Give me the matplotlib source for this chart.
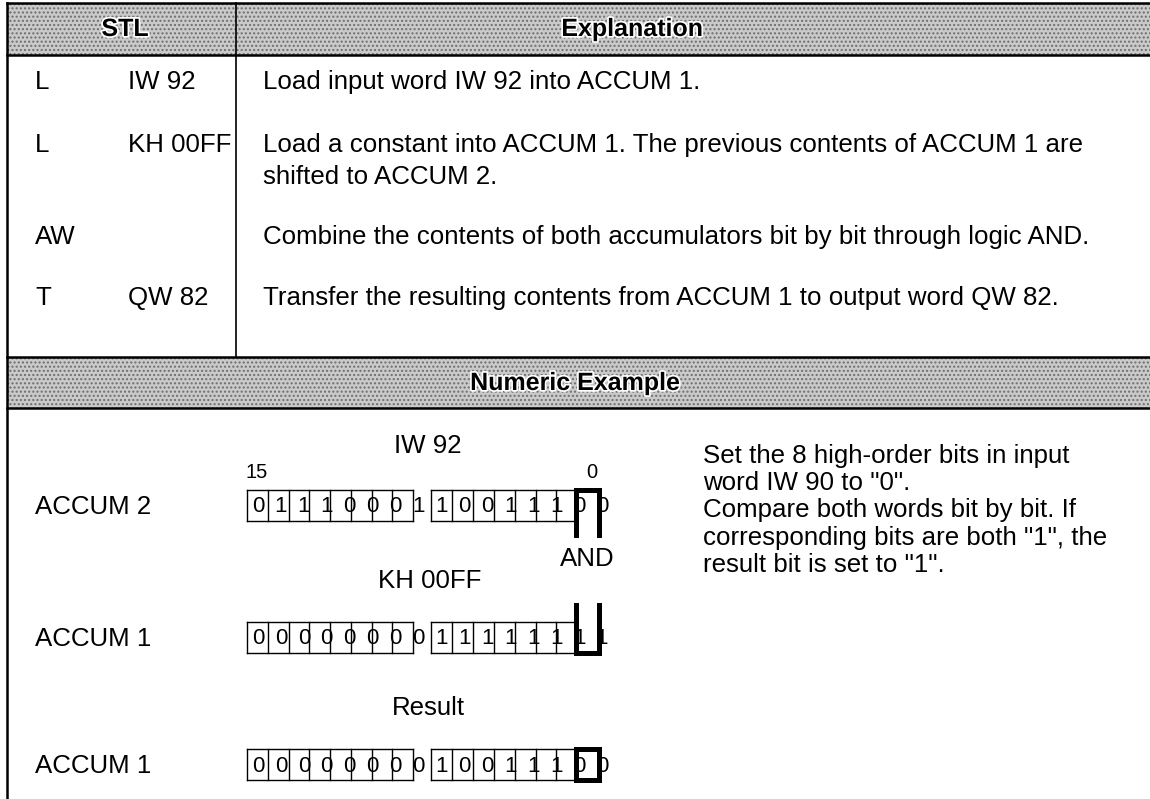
import matplotlib.pyplot as plt
import matplotlib.patheffects as pe
from matplotlib.patches import Rectangle

# STL table
ops = ["L", "L", "AW", "T"]
operands = ["IW 92", "KH 00FF", "", "QW 82"]
explanations = [
    ["Load input word IW 92 into ACCUM 1."],
    ["Load a constant into ACCUM 1. The previous contents of ACCUM 1 are",
     "shifted to ACCUM 2."],
    ["Combine the contents of both accumulators bit by bit through logic AND."],
    ["Transfer the resulting contents from ACCUM 1 to output word QW 82."],
]
headers = ["STL", "Explanation", "Numeric Example"]

# numeric example
accum2_bits = [0, 1, 1, 1, 0, 0, 0, 1, 1, 0, 0, 1, 1, 1, 0, 0]
accum1_bits = [0, 0, 0, 0, 0, 0, 0, 0, 1, 1, 1, 1, 1, 1, 1, 1]
result_bits = [0, 0, 0, 0, 0, 0, 0, 0, 1, 0, 0, 1, 1, 1, 0, 0]
word_titles = ["IW 92", "KH 00FF", "Result"]
accum_labels = ["ACCUM 2", "ACCUM 1", "ACCUM 1"]
note_lines = [
    'Set the 8 high-order bits in input',
    'word IW 90 to "0".',
    'Compare both words bit by bit. If',
    'corresponding bits are both "1", the',
    'result bit is set to "1".',
]

W, H = 1150, 799
fig = plt.figure(figsize=(W / 100, H / 100), dpi=100)
ax = fig.add_axes([0, 0, 1, 1])
ax.set_xlim(0, W)
ax.set_ylim(H, 0)
ax.axis("off")

body = dict(family=["Liberation Sans", "DejaVu Sans"], fontsize=18.6, color="black")
head = dict(family=["Liberation Sans", "DejaVu Sans"],
            fontsize=18, fontweight="bold", color="black",
            path_effects=[pe.withStroke(linewidth=2.5, foreground="white")])

L, R = 7, 1152
grey = "#cacaca"

# grey bands
for y0, y1 in [(3, 55), (357, 408)]:
    ax.add_patch(Rectangle((L, y0), R - L, y1 - y0, facecolor=grey,
                           edgecolor="#6e6e6e", hatch="....", linewidth=0))
    ax.plot([L, R], [y0, y0], color="black", lw=1.8)
    ax.plot([L, R], [y1, y1], color="black", lw=1.8)

ax.plot([L, L], [3, H], color="black", lw=1.8)
ax.plot([236, 236], [3, 357], color="black", lw=1.2)

ax.text(125, 29, headers[0], ha="center", va="center", **head)
ax.text(632, 29, headers[1], ha="center", va="center", **head)
ax.text(575, 383, headers[2], ha="center", va="center", **head)

row_y = [82, 145, 237, 298]
for i in range(len(ops)):
    ax.text(35, row_y[i], ops[i], ha="left", va="center", **body)
    ax.text(128, row_y[i], operands[i], ha="left", va="center", **body)
    for j, line in enumerate(explanations[i]):
        ax.text(263, row_y[i] + 32 * j, line, ha="left", va="center", **body)

# bit rows
tops = [490, 622, 749]
bh = 31
byte_x = [247, 431]
cw = [20.75, 20.9]
rows = [accum2_bits, accum1_bits, result_bits]
thin = 1.0
thick = 3.6

for r in range(3):
    top = tops[r]
    bot = top + bh
    ax.text(35, top + 17, accum_labels[r], ha="left", va="center", **body)
    for b in range(2):
        x0 = byte_x[b]
        x1 = x0 + 8 * cw[b]
        xe = x1 if b == 0 else x0 + 7 * cw[b]
        ax.plot([x0, xe], [top, top], color="black", lw=thin)
        ax.plot([x0, xe], [bot, bot], color="black", lw=thin)
        for k in range(8 if b == 0 else 7):
            xk = x0 + k * cw[b]
            ax.plot([xk, xk], [top, bot], color="black", lw=thin)
        if b == 0:
            ax.plot([x1, x1], [top, bot], color="black", lw=thin)
    for i, v in enumerate(rows[r]):
        ax.text(258 + 22.93 * i, top + 17, str(v), ha="center", va="center",
                family=["Liberation Sans", "DejaVu Sans"], fontsize=16)

# thick AND bracket
xa, xb = 576, 599
ax.plot([xa, xa, xb, xb], [535, tops[0], tops[0], 535], color="black", lw=thick,
        solid_joinstyle="miter")
ax.plot([xa, xa, xb, xb], [605, tops[1] + bh, tops[1] + bh, 605], color="black",
        lw=thick, solid_joinstyle="miter")
ax.add_patch(Rectangle((xa, tops[2]), xb - xa, bh, fill=False, edgecolor="black",
                       lw=thick, joinstyle="miter"))

ax.text(428, 446, word_titles[0], ha="center", va="center", **body)
ax.text(430, 581, word_titles[1], ha="center", va="center", **body)
ax.text(428, 708, word_titles[2], ha="center", va="center", **body)
ax.text(587, 559, "AND", ha="center", va="center", **body)
ax.text(257, 473, "15", ha="center", va="center",
        family=["Liberation Sans", "DejaVu Sans"], fontsize=14.5)
ax.text(592, 473, "0", ha="center", va="center",
        family=["Liberation Sans", "DejaVu Sans"], fontsize=14.5)

for j, line in enumerate(note_lines):
    ax.text(703, 456 + 27.2 * j, line, ha="left", va="center", **body)

fig.savefig("out.png", dpi=100)
